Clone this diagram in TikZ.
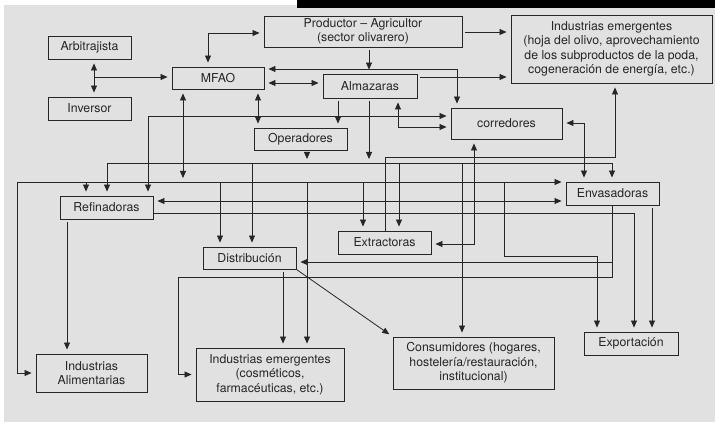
\documentclass[tikz,border=0pt]{standalone}
\usepackage{fontspec}
\setmainfont{TeX Gyre Heros}
\usepackage{xcolor}
\usepackage{tikz}
\usetikzlibrary{arrows.meta}
\definecolor{panel}{HTML}{E1E1E1}
\definecolor{ink}{HTML}{262626}

\begin{document}
\begin{tikzpicture}[
  x=1pt, y=-1pt,
  >={Triangle[length=7pt,width=6pt]},
  unit/.style={draw=ink, line width=0.9pt, fill=panel, inner sep=0pt, align=center,
    text=ink, font=\fontsize{12.3}{14.5}\selectfont},
  flow/.style={draw=ink, line width=0.8pt, ->, shorten >=4pt, shorten <=3pt},
  twoway/.style={draw=ink, line width=0.8pt, <->, shorten >=4pt, shorten <=4pt},
  tap/.style={draw=ink, line width=0.8pt, ->, shorten >=4pt}
]
  \useasboundingbox (0,0) rectangle (715,422);
  \fill[white] (0,0) rectangle (715,422);
  \fill[panel] (4,5) rectangle (715,422);
  \fill[black] (297,0) rectangle (715,8);

  \node[unit, minimum width=83pt,  minimum height=23pt] (arb)   at (89.5,47.5)   {Arbitrajista};
  \node[unit, minimum width=83pt,  minimum height=23pt] (inv)   at (89.5,108.5)  {Inversor};
  \node[unit, minimum width=92pt,  minimum height=22pt] (mfao)  at (218,78)      {MFAO};
  \node[unit, minimum width=198pt, minimum height=31pt] (prod)  at (363,31.5)    {Productor – Agricultor\\(sector olivarero)};
  \node[unit, minimum width=94pt,  minimum height=24pt] (alm)   at (370,86)      {Almazaras};
  \node[unit, minimum width=201pt, minimum height=68pt] (ieh)   at (611.5,49)    {Industrias emergentes\\(hoja del olivo, aprovechamiento\\de los subproductos de la poda,\\cogeneración de energía, etc.)};
  \node[unit, minimum width=111pt, minimum height=31pt] (corr)  at (506.5,123.5) {corredores};
  \node[unit, minimum width=93pt,  minimum height=22pt] (oper)  at (300.5,139)   {Operadores};
  \node[unit, minimum width=93pt,  minimum height=23pt] (ref)   at (106.5,207.5) {Refinadoras};
  \node[unit, minimum width=93pt,  minimum height=23pt] (env)   at (612.5,193.5) {Envasadoras};
  \node[unit, minimum width=93pt,  minimum height=23pt] (ext)   at (384.5,242.5) {Extractoras};
  \node[unit, minimum width=93pt,  minimum height=22pt] (dist)  at (249.5,258)   {Distribución};
  \node[unit, minimum width=111pt, minimum height=38pt] (ialim) at (91.5,373)    {Industrias\\Alimentarias};
  \node[unit, minimum width=148pt, minimum height=53pt] (iecos) at (270,374.5)   {Industrias emergentes\\(cosméticos,\\farmacéuticas, etc.)};
  \node[unit, minimum width=161pt, minimum height=52pt] (cons)  at (473.5,363)   {Consumidores (hogares,\\hostelería/restauración,\\institucional)};
  \node[unit, minimum width=94pt,  minimum height=23pt] (expo)  at (631,343.5)   {Exportación};

  \coordinate (ai)    at (94,77);
  \coordinate (pa)    at (369,69);
  \coordinate (busa)  at (107,163);
  \coordinate (busa2) at (612,163);
  \coordinate (busb)  at (17,182);
  \coordinate (k1)    at (615,157);
  \coordinate (k2)    at (178,277);
  \coordinate (k3)    at (504,182);
  \coordinate (k4)    at (597,256);

  % upper part
  \draw[twoway] (prod.west |- 0,33) -| (mfao.north -| 208,0);
  \draw[twoway] (arb.south -| ai) -- (inv.north -| ai);
  \draw[tap] (ai) -- (mfao.west |- ai);
  \draw[twoway] (mfao.east |- 0,83) -- (alm.west |- 0,83);
  \draw[flow] (prod.south -| pa) -- (alm.north -| pa);
  \draw[tap] (pa) -- (mfao.east |- pa);
  \draw[tap] (pa) -| (corr.north -| 457,0);
  \draw[flow] (prod.east |- 0,32) -- (ieh.west |- 0,32);
  \draw[flow] (alm.east |- 0,77) -- (ieh.west |- 0,77);
  \draw[twoway] (alm.south -| 398,0) |- (corr.west |- 0,127);
  \draw[twoway] (ref.north -| 148,0) |- (corr.west |- 0,116);
  \draw[twoway] (mfao.south -| 183,0) -- (busb -| 183,0);
  \draw[twoway] (mfao.south -| 258,0) -- (oper.north -| 258,0);
  \draw[flow] (alm.south -| 338,0) -- (oper.north -| 338,0);
  \draw[flow] (alm.south -| pa) -- (busa -| pa);
  \draw[flow] (oper.south -| 307,0) -- (busa -| 307,0);
  \draw[twoway] (corr.east |- 0,123) -| (env.north -| 584,0);
  \draw[twoway] (corr.south -| 474,0) |- (ext.east |- 0,244);
  \draw[tap] (ext.north -| 385,0) |- (k1) -- (ieh.south -| k1);

  % buses
  \draw[tap] (busa2) -- (busa) -- (ref.north -| busa);
  \draw[tap] (busa2) -- (env.north -| busa2);
  \draw[tap] (busa -| 252,0) -- (dist.north -| 252,0);
  \draw[tap] (busa -| 399,0) -- (ext.north -| 399,0);
  \draw[tap] (busa -| 462,0) -- (cons.north -| 462,0);
  \draw[tap] (busb) -- (env.north west |- busb);
  \draw[tap] (busb) |- (ialim.west);
  \draw[tap] (busb -| 86,0) -- (ref.north -| 86,0);
  \draw[tap] (busb -| 220,0) -- (dist.north -| 220,0);
  \draw[tap] (busb -| 307,0) -- (iecos.north -| 307,0);
  \draw[tap] (busb -| 363,0) -- (ext.north -| 363,0);
  \draw[tap] (k3) |- (k4) -- (expo.north -| k4);

  % lower part
  \draw[twoway] (ref.east |- 0,201) -- (env.west |- 0,201);
  \draw[tap] (ref.east |- 0,213) -| (expo.north -| 634,0);
  \draw[tap] (env.south -| busa2) |- (dist.east |- 0,262);
  \draw[tap] (env.south -| busa2) |- (k2) |- (iecos.west);
  \draw[flow] (env.south -| 652,0) -- (expo.north -| 652,0);
  \draw[flow] (dist.south -| 283,0) -- (iecos.north -| 283,0);
  \draw[tap] (dist.south east) -- (cons.north west);
  \draw[flow] (ref.south -| 67,0) -- (ialim.north -| 67,0);
\end{tikzpicture}
\end{document}
